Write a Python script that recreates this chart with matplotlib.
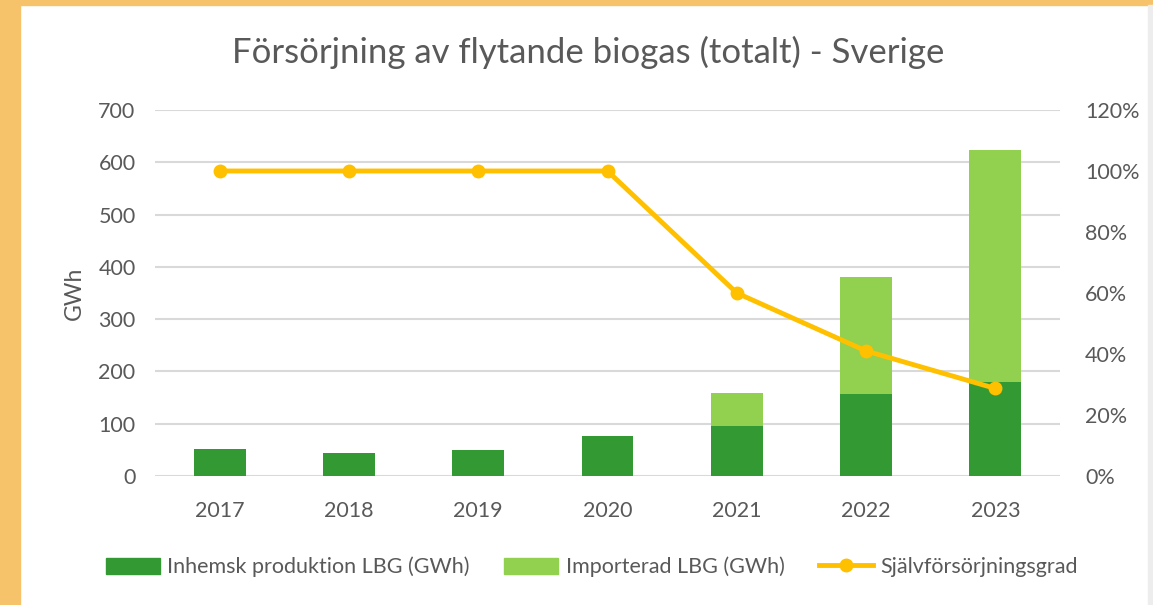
import matplotlib.pyplot as plt
import matplotlib.patches as mpatches
from matplotlib.lines import Line2D
from matplotlib.ticker import FuncFormatter
import numpy as np

plt.rcParams['font.family'] = ['Lato', 'DejaVu Sans']

years = ['2017', '2018', '2019', '2020', '2021', '2022', '2023']
inhemsk = [52, 44, 50, 76, 96, 156, 179]
importerad = [0, 0, 0, 0, 62, 225, 444]
sjalvgrad = [1.00, 1.00, 1.00, 1.00, 0.60, 0.41, 0.287]

dark_green = '#339933'
light_green = '#92D050'
gold = '#FFC000'
grey_text = '#595959'

fig = plt.figure(figsize=(11.53, 6.05), dpi=100)

# orange frame around the white panel
fig.patches.append(mpatches.Rectangle((0, 0), 20 / 1153, 1, transform=fig.transFigure,
                                      color='#F6C36A', zorder=0))
fig.patches.append(mpatches.Rectangle((0, 1 - 5 / 605), 1, 5 / 605, transform=fig.transFigure,
                                      color='#F6C36A', zorder=0))
fig.patches.append(mpatches.Rectangle((1148 / 1153, 0), 5 / 1153, 1 - 5 / 605,
                                      transform=fig.transFigure, color='#EDEDED', zorder=0))

ax = fig.add_axes([155 / 1153, 1 - 476 / 605, 905 / 1153, 366 / 605])
x = np.arange(len(years))
ax.bar(x, inhemsk, width=0.4, color=dark_green, zorder=3)
ax.bar(x, importerad, width=0.4, bottom=inhemsk, color=light_green, zorder=3)
ax.set_xlim(-0.5, 6.5)
ax.set_ylim(0, 700)
ax.set_yticks(range(0, 701, 100))
ax.set_xticks(x)
ax.set_xticklabels(years)
ax.grid(axis='y', color='#D9D9D9', linewidth=1.5, zorder=0)
for s in ax.spines.values():
    s.set_visible(False)
ax.tick_params(length=0, labelsize=15.5, labelcolor=grey_text)
ax.tick_params(axis='x', pad=18)
ax.tick_params(axis='y', pad=14)
ax.set_ylabel('GWh', fontsize=16.5, color=grey_text, labelpad=10)

ax2 = ax.twinx()
ax2.plot(x, sjalvgrad, color=gold, linewidth=3.5, marker='o', markersize=9, zorder=5)
ax2.set_ylim(0, 1.2)
ax2.set_yticks(np.arange(0, 1.21, 0.2))
ax2.yaxis.set_major_formatter(FuncFormatter(lambda v, p: f'{v * 100:.0f}%'))
for s in ax2.spines.values():
    s.set_visible(False)
ax2.tick_params(length=0, labelsize=15.5, labelcolor=grey_text, pad=18)

fig.text(588 / 1153, 1 - 52 / 605, 'Försörjning av flytande biogas (totalt) - Sverige',
         ha='center', va='center', fontsize=25, color=grey_text)

handles = [mpatches.Patch(color=dark_green), mpatches.Patch(color=light_green),
           Line2D([], [], color=gold, linewidth=3.5, marker='o', markersize=9)]
labels = ['Inhemsk produktion LBG (GWh)', 'Importerad LBG (GWh)', 'Självförsörjningsgrad']
fig.legend(handles, labels, loc='center', bbox_to_anchor=(592 / 1153, 1 - 567 / 605),
           ncol=3, frameon=False, fontsize=15.5, labelcolor=grey_text,
           handlelength=2.5, handleheight=0.8, columnspacing=1.6, handletextpad=0.35)

fig.savefig('out.png', dpi=100)
